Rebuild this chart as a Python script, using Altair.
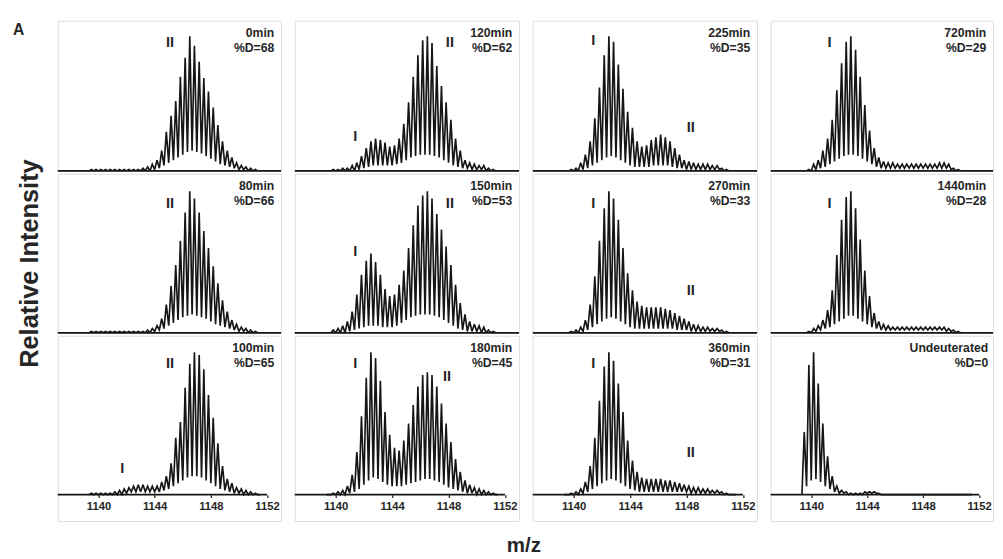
import altair as alt
import pandas as pd

# ---------------- data ----------------
PEAK_MZ = [1139.50, 1139.83, 1140.17, 1140.50, 1140.83, 1141.17, 1141.50, 1141.83,
           1142.17, 1142.50, 1142.83, 1143.17, 1143.50, 1143.83, 1144.17, 1144.50,
           1144.83, 1145.17, 1145.50, 1145.83, 1146.17, 1146.50, 1146.83, 1147.17,
           1147.50, 1147.83, 1148.17, 1148.50, 1148.83, 1149.17, 1149.50, 1149.83,
           1150.17, 1150.50, 1150.83, 1151.17, 1151.50]
TICKS = [1140, 1144, 1148, 1152]

PANEL_NAMES = ["0min", "80min", "100min", "120min", "150min", "180min",
               "225min", "270min", "360min", "720min", "1440min", "Undeuterated"]
PERCENT_D = [68, 66, 65, 62, 53, 45, 35, 33, 31, 29, 28, 0]

PEAKS_0MIN = [1,1,1,1,1,1,1,1,1,1,1, 2,3,5,8,15, 29,41,52,70,84, 100,93,81,69,59, 47,34,22,15,10, 6,4,3,2,1, 0]
VALLEYS_0MIN = [0,0,0,0,0,0,0,0,0,0,0,0,0, 1,2,4,6,8, 10,12,14,15,14, 13,11,9,7,5, 4,3,2,1,1, 0,0,0]
PEAKS_80MIN = [1,1,1,1,1,1,1,1,1,1,1, 1,2,3,5,10, 20,33,48,65,85, 100,95,85,72,60, 47,35,23,15,9, 6,4,3,2,1, 0]
VALLEYS_80MIN = [0,0,0,0,0,0,0,0,0,0,0,0,0, 1,2,3,5,7, 9,11,12,13,12, 11,10,8,6,5, 4,3,2,1,1, 0,0,0]
PEAKS_100MIN = [1,1,1,1,1, 2,3,4,5,6, 7,7,6,6,6, 9,13,22,40,51, 75,92,100,98,88, 70,54,36,20,11, 8,5,4,3,2, 1,0]
VALLEYS_100MIN = [0,0,0,0,0, 0,0,1,2,2, 2,2,2,2,2, 3,4,6,8,10, 12,13,13,12,10, 8,6,4,3,2, 1,1,0,0,0, 0]
PEAKS_120MIN = [0,1,1,2,2, 4,6,11,17,22, 24,23,21,18,19, 24,35,51,70,86, 97,100,95,78,63, 51,38,24,15,8, 6,5,4,4,2, 1,0]
VALLEYS_120MIN = [0,0,0,0,0, 0,1,2,3,4, 4,4,4,4,5, 6,8,10,11,12, 12,12,11,10,8, 6,4,3,2,2, 1,1,1,0,0, 0]
PEAKS_150MIN = [0,2,3,5,8, 15,27,41,51,56, 50,41,31,26,27, 34,44,60,76,90, 97,100,95,84,73, 61,48,34,21,13, 8,6,5,4,2, 1,0]
VALLEYS_150MIN = [0,0,0,0,1, 2,3,4,5,5, 5,4,4,4,5, 7,9,11,12,13, 13,13,12,11,9, 7,5,3,2,1, 1,1,0,0,0, 0]
PEAKS_180MIN = [0,1,2,3,6, 14,30,55,82,100, 96,80,58,42,33, 31,38,50,63,76, 84,86,84,76,64, 50,37,25,16,10, 7,5,4,3,2, 1,0]
VALLEYS_180MIN = [0,0,0,0,1, 2,4,7,10,12, 11,9,7,6,6, 6,7,8,9,10, 11,11,10,9,7, 5,4,3,2,1, 1,0,0,0,0, 0]
PEAKS_225MIN = [0,1,2,6,12, 22,39,62,86,100, 96,79,61,44,32, 22,18,19,23,25, 27,25,22,17,12, 8,7,6,5,5, 5,4,4,2,1, 0,0]
VALLEYS_225MIN = [0,0,0,1,2, 4,6,8,10,11, 10,8,6,4,3, 3,3,3,4,4, 4,4,3,2,2, 1,1,1,1,1, 1,1,1,0,0, 0]
PEAKS_270MIN = [0,1,2,4,9, 20,40,65,88,100, 95,80,60,42,30, 22,19,18,18,18, 18,17,16,14,12, 10,8,6,5,4, 4,3,3,2,1, 0,0]
VALLEYS_270MIN = [0,0,0,1,2, 4,6,8,10,11, 10,8,6,4,3, 3,3,3,3,3, 3,3,3,2,2, 2,1,1,1,1, 1,1,1,0,0, 0]
PEAKS_360MIN = [0,1,2,4,9, 20,40,66,90,100, 94,78,58,38,24, 16,12,11,11,11, 11,10,10,9,8, 7,6,5,5,4, 4,3,3,2,1, 0,0]
VALLEYS_360MIN = [0,0,0,1,2, 4,6,8,10,11, 10,8,6,4,3, 2,2,2,2,2, 2,2,2,2,2, 2,1,1,1,1, 1,1,1,0,0, 0]
PEAKS_720MIN = [0,1,5,8,15, 24,38,60,80,96, 100,90,70,49,30, 17,10,7,6,6, 5,5,5,5,5, 5,5,5,5,6, 6,5,2,1,0, 0,0]
VALLEYS_720MIN = [0,0,1,2,3, 5,7,9,11,12, 12,11,9,7,5, 3,2,2,2,2, 2,2,2,2,2, 2,2,2,2,2, 2,1,0,0,0, 0]
PEAKS_1440MIN = [0,1,3,5,9, 16,30,55,80,96, 100,88,66,44,26, 14,8,6,5,4, 4,4,4,4,4, 4,4,4,4,4, 4,3,2,1,0, 0,0]
VALLEYS_1440MIN = [0,0,1,2,3, 4,6,8,10,12, 12,10,8,6,4, 3,2,2,2,2, 2,2,2,2,2, 2,2,2,2,2, 1,1,0,0,0, 0]
PEAKS_UNDEUT = [44,91,100,78,50, 27,13,6,3,2, 1,1,1,2,2, 2,1,0,0,0, 0,0,0,0,0, 0,0,0,0,0, 0,0,0,0,0, 0,0]
VALLEYS_UNDEUT = [6,10,11,9,6, 4,2,1,1,0, 0,0,0,1,1, 1,0,0,0,0, 0,0,0,0,0, 0,0,0,0,0, 0,0,0,0,0, 0]

PEAK_LISTS = [PEAKS_0MIN, PEAKS_80MIN, PEAKS_100MIN, PEAKS_120MIN, PEAKS_150MIN, PEAKS_180MIN,
              PEAKS_225MIN, PEAKS_270MIN, PEAKS_360MIN, PEAKS_720MIN, PEAKS_1440MIN, PEAKS_UNDEUT]
VALLEY_LISTS = [VALLEYS_0MIN, VALLEYS_80MIN, VALLEYS_100MIN, VALLEYS_120MIN, VALLEYS_150MIN, VALLEYS_180MIN,
                VALLEYS_225MIN, VALLEYS_270MIN, VALLEYS_360MIN, VALLEYS_720MIN, VALLEYS_1440MIN, VALLEYS_UNDEUT]

LABEL_PANEL = ["0min", "80min", "100min", "100min", "120min", "120min", "150min", "150min",
               "180min", "180min", "225min", "225min", "270min", "270min", "360min", "360min",
               "720min", "1440min"]
LABEL_TEXT = ["II", "II", "II", "I", "II", "I", "II", "I", "I", "II", "I", "II", "I", "II", "I", "II", "I", "I"]
LABEL_MZ = [1145.1, 1145.1, 1145.1, 1141.7, 1148.1, 1141.4, 1148.1, 1141.4, 1141.4, 1147.9,
            1141.4, 1148.3, 1141.4, 1148.3, 1141.4, 1148.3, 1141.3, 1141.3]
LABEL_Y = [96, 92, 92.5, 18.5, 96, 26, 92, 58, 92.5, 83, 97, 32.6, 92, 30, 92.5, 30, 96, 92]

# ---------------- layout ----------------
XDOM = [1137.1, 1153.0]
COL_W = [229, 230, 230, 228]
ROW_H = [154, 163, 190]
ROW_YDOM = [[0, 111.6], [0, 112.4], [-18.5, 111.6]]
FONT = "Liberation Sans"
INK = "#161616"
TXT = "#262626"

for p, v in zip(PEAK_LISTS, VALLEY_LISTS):
    assert len(p) == len(PEAK_MZ) and len(v) == len(PEAK_MZ) - 1


def spectrum_frame(peaks, valleys):
    half = (PEAK_MZ[1] - PEAK_MZ[0]) / 2
    mz, it = [PEAK_MZ[0] - half], [0]
    for k, m in enumerate(PEAK_MZ):
        mz.append(m)
        it.append(peaks[k])
        if k < len(valleys):
            mz.append((m + PEAK_MZ[k + 1]) / 2)
            it.append(valleys[k])
    return pd.DataFrame({"mz": mz, "inten": it, "ord": list(range(len(mz)))})


def panel(col, row, idx):
    w, h = COL_W[col], ROW_H[row]
    name = PANEL_NAMES[idx]
    bottom = row == 2
    if bottom:
        axis = alt.Axis(values=TICKS, format="d", offset=-27, domain=False, grid=False, ticks=True,
                        tickSize=3, tickColor=INK, tickWidth=1.2, labelFont=FONT,
                        labelFontWeight="bold", labelFontSize=11.5, labelColor=TXT,
                        labelPadding=3, labelFlush=False, labelOverlap=False, title=None)
    else:
        axis = None
    xs = alt.Scale(domain=XDOM, nice=False, zero=False)
    ys = alt.Scale(domain=ROW_YDOM[row], nice=False, zero=False)

    def X(f):
        return alt.X(f, type="quantitative", scale=xs, axis=axis)

    def Y(f):
        return alt.Y(f, type="quantitative", scale=ys, axis=None)

    spec = spectrum_frame(PEAK_LISTS[idx], VALLEY_LISTS[idx])
    line = alt.Chart(spec).mark_line(color=INK, strokeWidth=1.7, clip=True,
                                     strokeJoin="miter", strokeMiterLimit=3).encode(
        x=X("mz"), y=Y("inten"), order="ord:Q")

    base_df = pd.DataFrame({"mz": [XDOM[0]], "mz2": [TICKS[-1] if bottom else XDOM[1]], "inten": [0]})
    base = alt.Chart(base_df).mark_rule(color=INK, strokeWidth=1.8).encode(
        x=X("mz"), x2="mz2", y=Y("inten"))

    lab_df = pd.DataFrame({"panel": LABEL_PANEL, "t": LABEL_TEXT, "mz": LABEL_MZ, "inten": LABEL_Y})
    lab_df = lab_df[lab_df["panel"] == name]
    layers = [base, line]
    if len(lab_df):
        labels = alt.Chart(lab_df).mark_text(font=FONT, fontWeight="bold", fontSize=15,
                                             color=TXT, baseline="middle").encode(
            x=X("mz"), y=Y("inten"), text="t:N")
        layers.append(labels)

    info = pd.DataFrame({"a": [name], "b": ["%D=" + str(PERCENT_D[idx])]})
    right = w - 5 if name == "Undeuterated" else w - 7
    t1 = alt.Chart(info).mark_text(font=FONT, fontWeight="bold", fontSize=12.5, color=TXT,
                                   align="right", baseline="middle").encode(
        x=alt.value(right), y=alt.value(13), text="a:N")
    t2 = alt.Chart(info).mark_text(font=FONT, fontWeight="bold", fontSize=12.5, color=TXT,
                                   align="right", baseline="middle").encode(
        x=alt.value(right), y=alt.value(28), text="b:N")
    layers += [t1, t2]
    return alt.layer(*layers).properties(width=w, height=h)


columns = []
for c in range(4):
    rows = [panel(c, r, c * 3 + r) for r in range(3)]
    columns.append(alt.vconcat(*rows, spacing=0))

left_df = pd.DataFrame({"t": ["Relative Intensity"], "a": ["A"]})
ytitle = alt.Chart(left_df).mark_text(angle=270, font=FONT, fontWeight="bold", fontSize=26,
                                      color=TXT, align="center", baseline="middle").encode(
    x=alt.value(22), y=alt.value(249), text="t:N")
letter = alt.Chart(left_df).mark_text(font=FONT, fontWeight="bold", fontSize=16, color=TXT,
                                      align="center", baseline="middle").encode(
    x=alt.value(10), y=alt.value(10), text="a:N")
left = alt.layer(ytitle, letter).properties(
    width=37, height=507, view=alt.ViewBackground(stroke="transparent"))

chart = alt.hconcat(left, *columns, spacing=10).properties(
    padding={"left": 0, "top": 5, "right": 0, "bottom": 0},
    title=alt.TitleParams("m/z", orient="bottom", anchor="middle", fontSize=21, font=FONT,
                          fontWeight="bold", color=TXT, offset=14, dx=23),
).configure_view(stroke="#8a8a8a", strokeWidth=1.5).configure(background="white")

chart.save("out.html", embed_options={"renderer": "svg", "actions": False})
